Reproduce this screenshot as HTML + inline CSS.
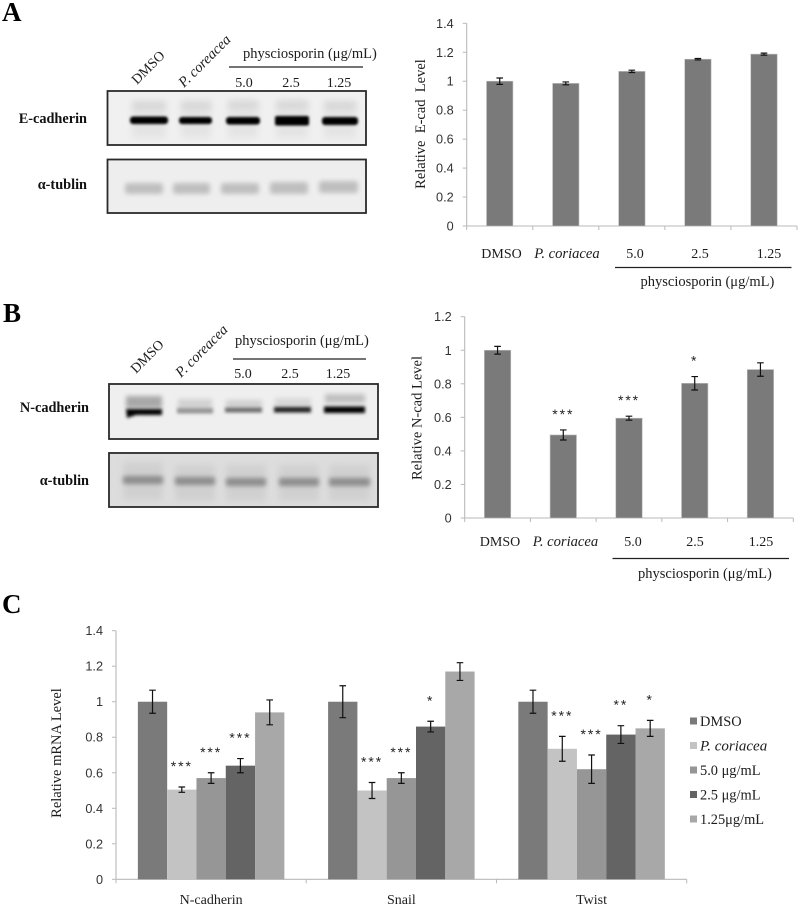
<!DOCTYPE html>
<html lang="en">
<head>
<meta charset="utf-8">
<title>E-cadherin, N-cadherin and mRNA levels</title>
<style>
html,body{margin:0;padding:0;background:#fff;}
svg{display:block;}
text{font-family:"Liberation Serif",serif;fill:#1c1c1c;}
.tick{font-family:"Liberation Sans",sans-serif;font-size:12.7px;fill:#333;}
.bl{font-size:14.3px;font-weight:bold;fill:#111;}
.lab{font-size:14px;}
.it{font-size:14.6px;font-style:italic;}
.ti{font-size:14.5px;}
.ph{font-size:14.5px;}
.letter{font-size:27px;font-weight:bold;fill:#000;}
.star{font-family:"Liberation Sans",sans-serif;font-size:14px;letter-spacing:1.9px;fill:#222;}
</style>
</head>
<body>
<svg id="fig" width="800" height="907" viewBox="0 0 800 907" xmlns="http://www.w3.org/2000/svg">
<defs>
<filter id="b1" x="-20%" y="-150%" width="140%" height="400%"><feGaussianBlur stdDeviation="1.2"/></filter>
<filter id="b15" x="-20%" y="-150%" width="140%" height="400%"><feGaussianBlur stdDeviation="1.5"/></filter>
<filter id="b2" x="-20%" y="-150%" width="140%" height="400%"><feGaussianBlur stdDeviation="2.4"/></filter>
<filter id="b3" x="-20%" y="-200%" width="140%" height="500%"><feGaussianBlur stdDeviation="3.5"/></filter>
</defs>

<text class="letter" x="2" y="21">A</text>
<text class="letter" x="3" y="322">B</text>
<text class="letter" x="2" y="613">C</text>

<!-- Panel A blot labels -->
<text class="lab" transform="rotate(-45 137 85)" x="137" y="85">DMSO</text>
<text class="it" transform="rotate(-45 184 88)" x="184" y="88">P. coreacea</text>
<text class="ph" x="243" y="58">physciosporin (μg/mL)</text>
<line x1="229" x2="363" y1="67" y2="67" stroke="#222" stroke-width="1.2"/>
<text class="lab" x="244" y="87" text-anchor="middle">5.0</text>
<text class="lab" x="291" y="87" text-anchor="middle">2.5</text>
<text class="lab" x="339" y="87" text-anchor="middle">1.25</text>
<text class="bl" x="87" y="123" text-anchor="end">E-cadherin</text>
<text class="bl" x="87" y="189" text-anchor="end">α-tublin</text>

<!-- E-cadherin blot -->
<g>
<rect x="107.500" y="91" width="258.500" height="54" fill="#f0f0f0"/>
<g fill="#e4e4e4" filter="url(#b3)">
<rect x="132" y="100" width="34" height="38"/><rect x="181" y="100" width="30" height="38"/><rect x="228" y="100" width="30" height="38"/><rect x="276" y="100" width="32" height="38"/><rect x="324" y="100" width="32" height="38"/>
</g>
<g fill="#d4d4d4" filter="url(#b3)">
<rect x="133" y="103" width="32" height="6"/><rect x="182" y="103" width="29" height="6"/><rect x="229" y="102" width="29" height="6"/><rect x="277" y="102" width="31" height="6"/><rect x="325" y="103" width="31" height="6"/>
</g>
<g fill="#000" filter="url(#b1)">
<rect x="130" y="116.500" width="38" height="7.500" rx="3"/><rect x="179" y="117" width="33" height="7" rx="3"/><rect x="226" y="117" width="34" height="7.500" rx="3"/><rect x="275" y="116" width="34" height="9.500" rx="2"/><rect x="322" y="117" width="36" height="8" rx="3"/>
</g>
<rect x="107.500" y="91" width="258.500" height="54" fill="none" stroke="#2a2a2a" stroke-width="1.800"/>
</g>
<g>
<rect x="107.500" y="159.500" width="258.500" height="53.500" fill="#eeeeee"/>
<g fill="#bfbfbf" filter="url(#b2)">
<rect x="125" y="183" width="38" height="11" rx="3"/><rect x="173" y="183" width="37" height="11" rx="3"/><rect x="221" y="183" width="38" height="11" rx="3"/><rect x="270" y="182" width="38" height="12" rx="3"/><rect x="319" y="181" width="39" height="12" rx="3"/>
</g>
<rect x="107.500" y="159.500" width="258.500" height="53.500" fill="none" stroke="#2a2a2a" stroke-width="1.800"/>
</g>

<!-- Panel B blot labels -->
<text class="lab" transform="rotate(-45 136 374)" x="136" y="374">DMSO</text>
<text class="it" transform="rotate(-45 181 378)" x="181" y="378">P. coreacea</text>
<text class="ph" x="235" y="345">physciosporin (μg/mL)</text>
<line x1="233" x2="366" y1="359" y2="359" stroke="#222" stroke-width="1.2"/>
<text class="lab" x="243" y="378" text-anchor="middle">5.0</text>
<text class="lab" x="290" y="378" text-anchor="middle">2.5</text>
<text class="lab" x="338" y="378" text-anchor="middle">1.25</text>
<text class="bl" x="89" y="412" text-anchor="end">N-cadherin</text>
<text class="bl" x="89" y="485" text-anchor="end">α-tublin</text>

<!-- N-cadherin blot -->
<g>
<rect x="109" y="384" width="269" height="55" fill="#efefef"/>
<g filter="url(#b2)">
<rect x="126" y="396" width="36" height="12" fill="#a8a8a8"/>
<rect x="178" y="399" width="34" height="10" fill="#d2d2d2"/>
<rect x="226" y="400" width="36" height="8" fill="#d0d0d0"/>
<rect x="275" y="398" width="36" height="9" fill="#d8d8d8"/>
<rect x="325" y="394" width="40" height="9" fill="#c0c0c0"/>
</g>
<g filter="url(#b15)">
<path d="M126 409H162V415H136L127 418Z" fill="#000"/>
<rect x="177" y="408" width="36" height="5.500" fill="#949494"/>
<rect x="225" y="407.500" width="37" height="5" fill="#6e6e6e"/>
<rect x="274" y="407" width="37" height="5.500" fill="#222"/>
<rect x="324" y="406.500" width="41" height="6.500" fill="#000"/>
</g>
<rect x="109" y="384" width="269" height="55" fill="none" stroke="#2a2a2a" stroke-width="1.800"/>
</g>
<g>
<rect x="109" y="453" width="269" height="54" fill="#dddddd"/>
<g fill="#d0d0d0" filter="url(#b3)">
<rect x="123" y="462" width="40" height="38"/><rect x="175" y="465" width="40" height="36"/><rect x="226" y="465" width="40" height="36"/><rect x="279" y="465" width="40" height="36"/><rect x="329" y="465" width="41" height="36"/>
</g>
<g fill="#8c8c8c" filter="url(#b2)">
<rect x="123" y="476" width="40" height="8" rx="2"/><rect x="175" y="477" width="40" height="8" rx="2"/><rect x="226" y="478" width="40" height="8" rx="2"/><rect x="279" y="478" width="40" height="8" rx="2"/><rect x="329" y="478" width="41" height="8" rx="2"/>
</g>
<rect x="109" y="453" width="269" height="54" fill="none" stroke="#2a2a2a" stroke-width="1.800"/>
</g>

<!-- Panel A / B manual x labels -->
<text class="lab" x="501.500" y="258" text-anchor="middle">DMSO</text>
<text class="it" x="567" y="258" text-anchor="middle">P. coriacea</text>
<text class="lab" x="635" y="258" text-anchor="middle">5.0</text>
<text class="lab" x="700" y="258" text-anchor="middle">2.5</text>
<text class="lab" x="769" y="258" text-anchor="middle">1.25</text>
<line x1="615" x2="791.500" y1="267.500" y2="267.500" stroke="#222" stroke-width="1.2"/>
<text class="ph" x="640.500" y="286">physciosporin (μg/mL)</text>
<text class="lab" x="500" y="546" text-anchor="middle">DMSO</text>
<text class="it" x="565.500" y="546" text-anchor="middle">P. coriacea</text>
<text class="lab" x="633" y="546" text-anchor="middle">5.0</text>
<text class="lab" x="695" y="546" text-anchor="middle">2.5</text>
<text class="lab" x="761" y="546" text-anchor="middle">1.25</text>
<line x1="612.500" x2="789" y1="558.500" y2="558.500" stroke="#222" stroke-width="1.2"/>
<text class="ph" x="638" y="578">physciosporin (μg/mL)</text>

<text class="ti" transform="rotate(-90 425 124)" x="425" y="124" text-anchor="middle" style="white-space:pre">Relative  E-cad  Level</text>
<text class="ti" transform="rotate(-90 421.500 418)" x="421.500" y="418" text-anchor="middle">Relative N-cad Level</text>
<text class="ti" transform="rotate(-90 61 753)" x="61" y="753" text-anchor="middle">Relative mRNA Level</text>

<g id="chartA"></g>
<g id="chartB"></g>
<g id="chartC"></g>
<g id="legend"></g>
</svg>
<script>
var ecadValues = [1, 0.985, 1.068, 1.152, 1.187];
var ecadErrors = [0.022, 0.01, 0.008, 0.005, 0.007];
var ecadTicks = [0, 0.2, 0.4, 0.6, 0.8, 1, 1.2, 1.4];

var ncadValues = [1, 0.495, 0.595, 0.803, 0.885];
var ncadErrors = [0.023, 0.03, 0.012, 0.04, 0.04];
var ncadStars = ["", "***", "***", "*", ""];
var ncadTicks = [0, 0.2, 0.4, 0.6, 0.8, 1, 1.2];

var mrnaGenes = ["N-cadherin", "Snail", "Twist"];
var mrnaSeries = ["DMSO", "P. coriacea", "5.0 μg/mL", "2.5 μg/mL", "1.25μg/mL"];
var mrnaDmso = [1, 1, 1];
var mrnaCoriacea = [0.505, 0.5, 0.735];
var mrna50 = [0.57, 0.57, 0.62];
var mrna25 = [0.64, 0.86, 0.815];
var mrna125 = [0.94, 1.17, 0.85];
var errDmso = [0.065, 0.09, 0.065];
var errCoriacea = [0.015, 0.045, 0.07];
var err50 = [0.03, 0.03, 0.08];
var err25 = [0.04, 0.03, 0.05];
var err125 = [0.07, 0.05, 0.045];
var starsDmso = ["", "", ""];
var starsCoriacea = ["***", "***", "***"];
var stars50 = ["***", "***", "***"];
var stars25 = ["***", "*", "**"];
var stars125 = ["", "", "*"];
var mrnaTicks = [0, 0.2, 0.4, 0.6, 0.8, 1, 1.2, 1.4];

var NS = "http://www.w3.org/2000/svg";
function mk(tag, parent, attrs, txt) {
  var n = document.createElementNS(NS, tag);
  for (var k in attrs) n.setAttribute(k, attrs[k]);
  if (txt !== undefined) n.textContent = txt;
  parent.appendChild(n);
  return n;
}
function drawAxes(g, x0, x1, y0, y1, maxV, ticks, nCats) {
  var yScale = function (v) { return y0 - (v / maxV) * (y0 - y1); };
  var yAxis = mk("line", g, {x1: x0, x2: x0, y1: y1, y2: y0, stroke: "#b9b9b9", "stroke-width": 1.1});
  
  
  var xAxis = mk("line", g, {x1: x0, x2: x1, y1: y0, y2: y0, stroke: "#b9b9b9", "stroke-width": 1.1});
  
  
  ticks.forEach(function (t) {
    var y = yScale(t);
    var tm = mk("line", g, {x1: x0 - 4, x2: x0, y1: y, y2: y, stroke: "#b9b9b9", "stroke-width": 1});
    
    
    var tl = mk("text", g, {"class": "tick", x: x0 - 13, y: y + 4.5, "text-anchor": "end"}, String(t));
    
    
  });
  for (var i = 0; i <= nCats; i++) {
    var x = x0 + (x1 - x0) * i / nCats;
    var xt = mk("line", g, {x1: x, x2: x, y1: y0, y2: y0 + 4, stroke: "#b9b9b9", "stroke-width": 1});
    
    
  }
  return yScale;
}
function drawBar(g, x, w, v, err, color, yScale, y0, star, starGap, edge) {
  var attrs = {x: x, y: yScale(v), width: w, height: y0 - yScale(v), fill: color};
  if (edge) { attrs.stroke = "#bdbdbd"; attrs["stroke-width"] = 0.6; }
  var r = mk("rect", g, attrs);
  
  
  var cx = x + w / 2, top = yScale(v + err), bot = yScale(v - err);
  var e = mk("path", g, {d: "M" + (cx - 3.3) + " " + top + "H" + (cx + 3.3) + "M" + cx + " " + top + "V" + bot + "M" + (cx - 3.3) + " " + bot + "H" + (cx + 3.3), stroke: "#111", "stroke-width": 1.2, fill: "none"});
  
  
  if (star) {
    var s = mk("text", g, {"class": "star", x: cx, y: top - starGap + 7, "text-anchor": "middle"}, star);
    
    
  }
}
(function () {
  var g = document.getElementById("chartA");
  var x0 = 466.7, x1 = 797, y0 = 226, y1 = 23.3;
  var ys = drawAxes(g, x0, x1, y0, y1, 1.4, ecadTicks, ecadValues.length);
  var cw = (x1 - x0) / ecadValues.length;
  ecadValues.forEach(function (v, i) {
    drawBar(g, x0 + cw * (i + 0.5) - 13.2, 26.4, v, ecadErrors[i], "#7a7a7a", ys, y0, "", 0, true);
  });
})();
(function () {
  var g = document.getElementById("chartB");
  var x0 = 464.7, x1 = 793.3, y0 = 518, y1 = 316.7;
  var ys = drawAxes(g, x0, x1, y0, y1, 1.2, ncadTicks, ncadValues.length);
  var cw = (x1 - x0) / ncadValues.length;
  ncadValues.forEach(function (v, i) {
    drawBar(g, x0 + cw * (i + 0.5) - 13.2, 26.4, v, ncadErrors[i], "#7a7a7a", ys, y0, ncadStars[i], 18, true);
  });
})();
var mrnaColors = ["#7a7a7a", "#c3c3c3", "#969696", "#646464", "#a8a8a8"];
(function () {
  var g = document.getElementById("chartC");
  var x0 = 116, x1 = 686.7, y0 = 879.3, y1 = 630.7;
  var ys = drawAxes(g, x0, x1, y0, y1, 1.4, mrnaTicks, mrnaGenes.length);
  var cw = (x1 - x0) / mrnaGenes.length, bw = 29.3;
  var vals = [mrnaDmso, mrnaCoriacea, mrna50, mrna25, mrna125];
  var errs = [errDmso, errCoriacea, err50, err25, err125];
  var strs = [starsDmso, starsCoriacea, stars50, stars25, stars125];
  mrnaGenes.forEach(function (name, c) {
    var start = x0 + cw * (c + 0.5) - bw * 2.5;
    vals.forEach(function (arr, s) {
      drawBar(g, start + bw * s, bw, arr[c], errs[s][c], mrnaColors[s], ys, y0, strs[s][c], 23, false);
    });
    var lab = mk("text", g, {"class": "lab", x: x0 + cw * (c + 0.5), y: 904, "text-anchor": "middle", style: "font-size:14px"}, name);
    
    
  });
  var lg = document.getElementById("legend");
  mrnaSeries.forEach(function (name, i) {
    var cy = 721 + i * 24.5;
    var sw = mk("rect", lg, {x: 690, y: cy - 3.5, width: 7, height: 7, fill: mrnaColors[i]});
    
    
    var attrs = {"class": "lab", x: 700, y: cy + 5, style: "font-size:14.4px"};
    if (i === 1) { attrs.style = "font-size:15px;font-style:italic"; }
    var t = mk("text", lg, attrs, name);
    
    
  });
})();
</script>
</body>
</html>
